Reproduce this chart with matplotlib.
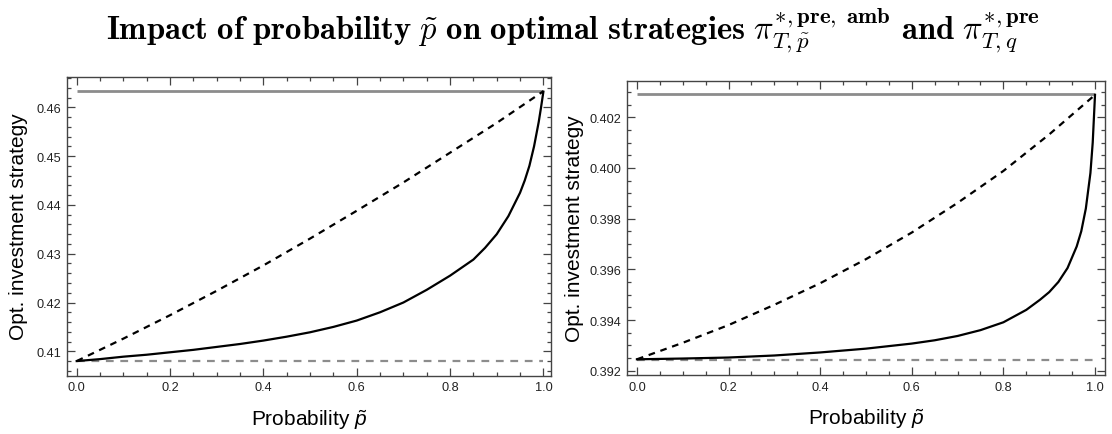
import numpy as np
import matplotlib
matplotlib.use('Agg')
import matplotlib.pyplot as plt
from matplotlib.ticker import MultipleLocator, FormatStrFormatter

plt.rcParams['font.family'] = ['Liberation Sans', 'DejaVu Sans']
plt.rcParams['mathtext.fontset'] = 'custom'
plt.rcParams['mathtext.rm'] = 'Liberation Sans'
plt.rcParams['mathtext.it'] = 'Liberation Sans:italic'

# left panel: values
p_left = [0.0, 0.05, 0.1, 0.15, 0.2, 0.25, 0.3, 0.35, 0.4, 0.45, 0.5, 0.55, 0.6,
          0.65, 0.7, 0.75, 0.8, 0.85, 0.875, 0.9, 0.925, 0.95, 0.96, 0.97, 0.98,
          0.99, 0.995, 1.0]
amb_left = [0.4080, 0.4084, 0.4089, 0.4093, 0.4098, 0.4103, 0.4109, 0.4115, 0.4122,
            0.4130, 0.4139, 0.4150, 0.4163, 0.4180, 0.4200, 0.4226, 0.4255, 0.4288,
            0.4312, 0.4340, 0.4377, 0.4425, 0.4450, 0.4480, 0.4520, 0.4570, 0.4600,
            0.4632]
q_left = [0.0, 0.1, 0.2, 0.3, 0.4, 0.5, 0.6, 0.7, 0.8, 0.9, 1.0]
pre_left = [0.4080, 0.4126, 0.4174, 0.4224, 0.4276, 0.4331, 0.4388, 0.4446, 0.4507,
            0.4568, 0.4633]
upper_left = 0.46324
lower_left = 0.40801

# right panel
p_right = [0.0, 0.1, 0.2, 0.3, 0.4, 0.5, 0.6, 0.65, 0.7, 0.75, 0.8, 0.85, 0.88, 0.9,
           0.92, 0.94, 0.96, 0.97, 0.98, 0.99, 0.995, 1.0]
amb_right = [0.39245, 0.39248, 0.39252, 0.39260, 0.39272, 0.39287, 0.39307, 0.39320,
             0.39337, 0.39360, 0.39391, 0.39440, 0.39480, 0.39510, 0.39550, 0.39605,
             0.39690, 0.39750, 0.39840, 0.39980, 0.40100, 0.40288]
q_right = [0.0, 0.1, 0.2, 0.3, 0.4, 0.5, 0.6, 0.7, 0.8, 0.9, 1.0]
pre_right = [0.39245, 0.39310, 0.39380, 0.39460, 0.39545, 0.39640, 0.39745, 0.39862,
             0.39988, 0.40132, 0.40288]
upper_right = 0.40290
lower_right = 0.39242

frame_col = '#444444'
gray = '#8c8c8c'

fig = plt.figure(figsize=(11.12, 4.35), dpi=100)
ax1 = fig.add_axes([0.060, 0.134, 0.4355, 0.6878])
ax2 = fig.add_axes([0.5638, 0.1356, 0.4299, 0.6766])


def panel(ax, p, amb, q, pre, upper, lower, ylim, xlim, ymaj, ymin, yfmt, ylab_x):
    ax.hlines(upper, q[0], q[-1], color=gray, lw=2.0)
    ax.hlines(lower, q[0], q[-1], color=gray, lw=1.6, linestyles=(0, (3.5, 3)))
    ax.plot(q, pre, color='black', lw=1.6, ls=(0, (3, 2.6)))
    ax.plot(p, amb, color='black', lw=1.6)
    ax.set_xlim(*xlim)
    ax.set_ylim(*ylim)
    ax.xaxis.set_major_locator(MultipleLocator(0.2))
    ax.xaxis.set_minor_locator(MultipleLocator(0.05))
    ax.xaxis.set_major_formatter(FormatStrFormatter('%.1f'))
    ax.yaxis.set_major_locator(MultipleLocator(ymaj))
    ax.yaxis.set_minor_locator(MultipleLocator(ymin))
    ax.yaxis.set_major_formatter(FormatStrFormatter(yfmt))
    ax.tick_params(which='both', direction='in', top=True, right=True,
                   color=frame_col, width=0.9, labelsize=9.2, labelcolor='#222222')
    ax.tick_params(which='major', length=5.5, pad=4)
    ax.tick_params(which='minor', length=2.8)
    for s in ax.spines.values():
        s.set_color(frame_col)
        s.set_linewidth(1.0)
    ax.set_xlabel(r'Probability $\tilde{p}$', fontsize=15)
    ax.set_ylabel('Opt. investment strategy', fontsize=15)
    ax.xaxis.set_label_coords(0.5, -0.105)
    ax.yaxis.set_label_coords(ylab_x, 0.5)


panel(ax1, p_left, amb_left, q_left, pre_left, upper_left, lower_left,
      (0.4050, 0.46631), (-0.0214, 1.0163), 0.01, 0.002, '%.2f', -0.08)
panel(ax2, p_right, amb_right, q_right, pre_right, upper_right, lower_right,
      (0.39183, 0.40344), (-0.0218, 1.0218), 0.002, 0.0005, '%.3f', -0.09)

title = (r'$\mathbf{Impact\ of\ probability}\ \tilde{p}\ \mathbf{on\ optimal\ strategies}\ '
         r'\pi^{*,\mathbf{pre,\ amb}}_{T,\tilde{p}}\ \mathbf{and}\ \pi^{*,\mathbf{pre}}_{T,q}$')
fig.text(0.515, 0.908, title, fontsize=23.5, ha='center', va='baseline', math_fontfamily='cm')

fig.savefig('out.png', dpi=100)
